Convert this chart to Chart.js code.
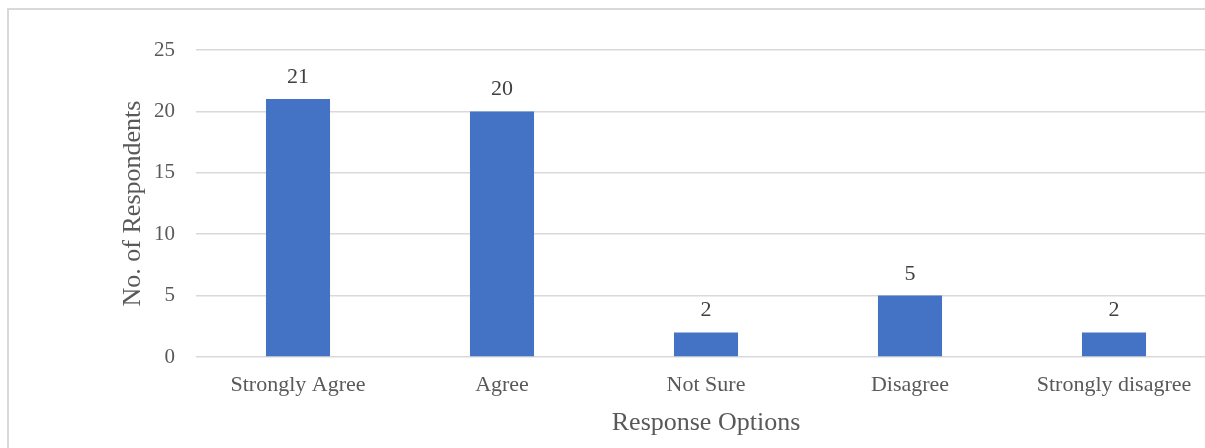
<!DOCTYPE html>
<html>
<head>
<meta charset="utf-8">
<script src="https://cdn.jsdelivr.net/npm/chart.js@4"></script>
<style>
  html, body { margin: 0; padding: 0; background: #fff; overflow: hidden; }
  #wrap { position: relative; width: 1205px; height: 448px; overflow: hidden; }
  #myChart { position: absolute; left: 0; top: 0; }
  #frame { position: absolute; left: 7px; top: 8px; width: 1300px; height: 500px;
           border-left: 2px solid #d9d9d9; border-top: 2px solid #d9d9d9; pointer-events: none; }
</style>
</head>
<body>
<div id="wrap">
  <canvas id="myChart" width="1220" height="448"></canvas>
  <div id="frame"></div>
</div>
<script>
const categories = ['Strongly Agree', 'Agree', 'Not Sure', 'Disagree', 'Strongly disagree'];
const respondents = [21, 20, 2, 5, 2];
const yTicks = [0, 5, 10, 15, 20, 25];

const serif = "'Liberation Serif', 'Times New Roman', serif";

// draws the number above each bar
const valueLabels = {
    id: 'valueLabels',
    afterDatasetsDraw(chart) {
        const ctx = chart.ctx;
        const meta = chart.getDatasetMeta(0);
        ctx.save();
        ctx.font = '22px ' + serif;
        ctx.fillStyle = '#404040';
        ctx.textAlign = 'center';
        ctx.textBaseline = 'alphabetic';
        meta.data.forEach((bar, i) => {
            ctx.fillText(respondents[i], bar.x, bar.y - 16);
        });
        ctx.restore();
    }
};

const initChart = () => {
    const ctx = document.getElementById('myChart');
    new Chart(ctx, {
        type: 'bar',
        data: {
            labels: categories,
            datasets: [
                {
                    label: 'No. of Respondents',
                    data: respondents,
                    backgroundColor: '#4472C4',
                    barPercentage: 0.314,
                    categoryPercentage: 1
                }
            ]
        },
        options: {
            responsive: false,
            animation: false,
            layout: { padding: { left: 0, top: 50, right: 4, bottom: 0 } },
            plugins: {
                legend: { display: false },
                tooltip: { enabled: false }
            },
            scales: {
                x: {
                    grid: { display: false, drawTicks: false },
                    border: { display: false },
                    ticks: {
                        color: '#595959',
                        font: { family: serif, size: 22 },
                        padding: 15,
                        maxRotation: 0
                    },
                    title: {
                        display: true,
                        text: 'Response Options',
                        color: '#595959',
                        font: { family: serif, size: 26 },
                        padding: { top: 0, bottom: 9 }
                    },
                    afterFit(scale) { scale.height = 91; }
                },
                y: {
                    min: 0,
                    max: 25,
                    afterBuildTicks(scale) { scale.ticks = yTicks.map(v => ({ value: v })); },
                    grid: { color: '#d9d9d9', lineWidth: 1.5, drawTicks: false },
                    border: { display: false },
                    ticks: {
                        color: '#595959',
                        font: { family: serif, size: 21 },
                        padding: 21
                    },
                    title: {
                        display: true,
                        text: 'No. of Respondents',
                        color: '#595959',
                        font: { family: serif, size: 26 },
                        padding: { top: 118, bottom: 0 }
                    },
                    afterFit(scale) { scale.width = 196; }
                }
            }
        },
        plugins: [valueLabels]
    });
}
initChart()
</script>
</body>
</html>
